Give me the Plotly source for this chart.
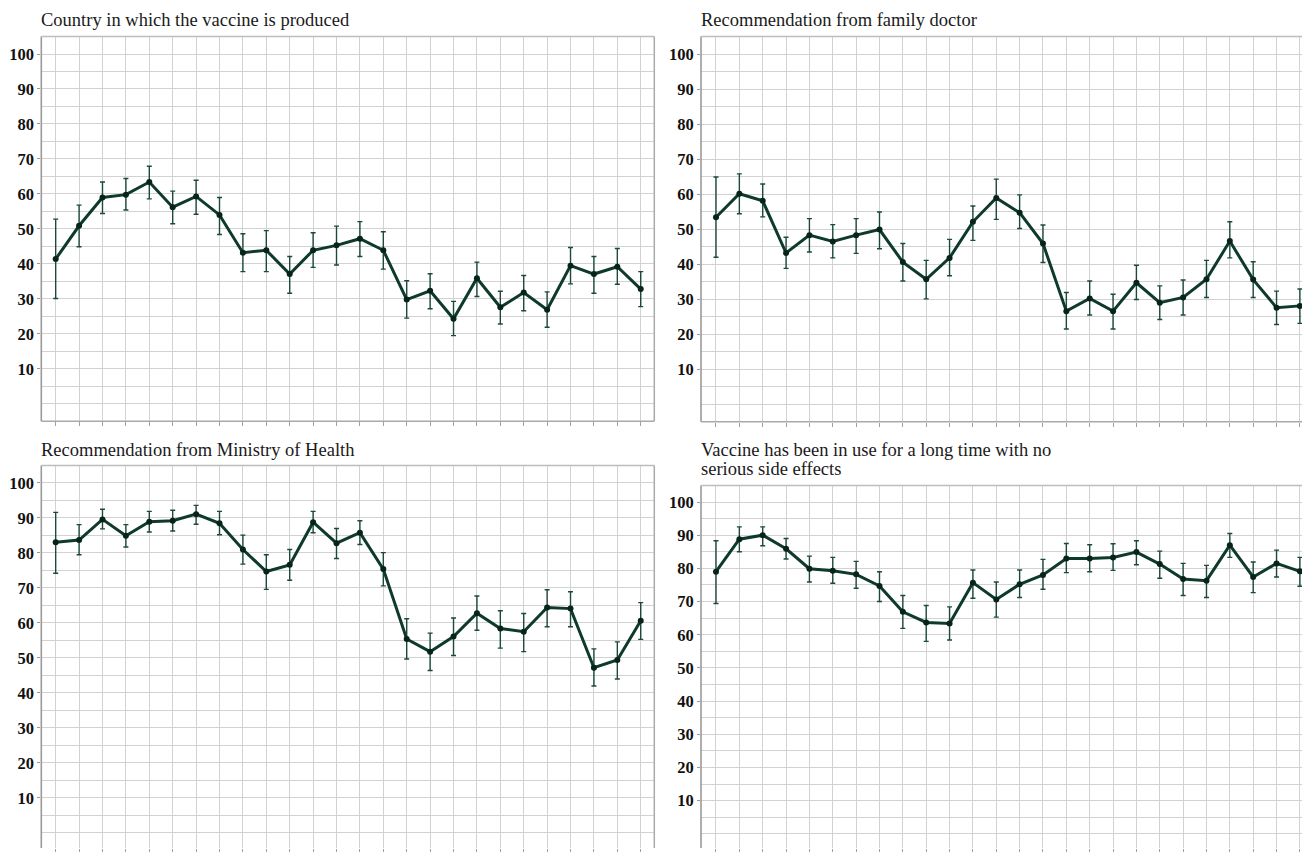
import plotly.graph_objects as go

W, H = 1302, 852

# ---------------- data ----------------
survey_wave = list(range(26))

country_mean = [41.4, 50.9, 59.0, 59.8, 63.4, 56.2, 59.3, 54.0, 43.2, 43.9, 37.1, 43.9, 45.3,
                47.2, 43.9, 29.8, 32.3, 24.3, 35.9, 27.6, 31.8, 26.9, 39.5, 37.1, 39.2, 32.8]
country_upper = [52.8, 56.8, 63.4, 64.4, 67.9, 60.8, 63.9, 59.0, 48.6, 49.5, 42.1, 48.9, 50.8,
                 52.1, 49.2, 35.2, 37.2, 29.3, 40.5, 32.2, 36.7, 32.0, 44.7, 42.1, 44.4, 37.8]
country_lower = [30.1, 44.9, 54.4, 55.4, 58.6, 51.5, 54.2, 48.4, 37.8, 37.8, 31.6, 39.0, 39.7,
                 42.1, 38.5, 24.5, 27.2, 19.5, 30.7, 22.8, 26.6, 21.9, 34.3, 31.6, 34.2, 27.8]

doctor_mean = [53.4, 60.1, 58.1, 43.2, 48.3, 46.5, 48.3, 49.9, 40.6, 35.7, 41.8, 52.1, 58.9,
               54.7, 45.9, 26.6, 30.2, 26.6, 34.7, 29.0, 30.5, 35.7, 46.6, 35.6, 27.6, 28.1]
doctor_upper = [64.9, 65.8, 62.9, 47.7, 53.0, 51.3, 53.0, 54.9, 45.9, 41.1, 47.1, 56.6, 64.3,
                59.8, 51.2, 31.9, 35.2, 31.4, 39.7, 33.8, 35.5, 41.1, 52.1, 40.7, 32.3, 32.9]
doctor_lower = [42.0, 54.4, 53.5, 38.8, 43.5, 41.8, 43.1, 44.4, 35.2, 30.1, 36.7, 46.8, 52.8,
                50.2, 40.5, 21.5, 25.5, 21.5, 29.9, 24.2, 25.5, 30.5, 41.8, 30.5, 22.8, 23.1]

ministry_mean = [83.1, 83.7, 89.6, 84.9, 88.9, 89.2, 91.1, 88.5, 81.0, 74.7, 76.6, 88.8, 82.8,
                 85.8, 75.4, 55.4, 51.8, 56.1, 62.8, 58.4, 57.5, 64.4, 64.1, 47.2, 49.4, 60.6]
ministry_upper = [91.6, 88.1, 92.5, 88.1, 91.9, 92.2, 93.6, 91.9, 85.1, 79.5, 81.0, 91.9, 87.0,
                  89.2, 80.1, 61.2, 57.1, 61.4, 67.7, 63.5, 62.7, 69.5, 68.9, 52.6, 54.6, 65.8]
ministry_lower = [74.2, 79.5, 86.9, 81.7, 86.0, 86.3, 88.2, 85.2, 76.8, 69.6, 72.2, 85.8, 78.4,
                  82.4, 70.6, 49.7, 46.4, 50.7, 57.9, 52.8, 51.8, 58.9, 58.9, 42.0, 44.0, 55.3]

longuse_mean = [79.0, 88.8, 90.0, 85.9, 79.9, 79.3, 78.2, 74.7, 66.9, 63.7, 63.4, 75.7, 70.6,
                75.2, 78.0, 83.0, 83.0, 83.3, 84.9, 81.3, 76.8, 76.3, 87.0, 77.4, 81.5, 79.1]
longuse_upper = [88.3, 92.5, 92.5, 89.0, 83.7, 83.3, 82.1, 79.0, 71.8, 68.8, 68.4, 79.5, 75.9,
                 79.5, 82.7, 87.5, 87.1, 87.4, 88.3, 85.2, 81.5, 80.9, 90.5, 81.9, 85.5, 83.3]
longuse_lower = [69.4, 85.0, 86.8, 82.8, 75.9, 75.5, 74.0, 70.0, 61.9, 58.0, 58.4, 71.0, 65.3,
                 71.2, 73.7, 78.7, 79.0, 79.4, 81.1, 77.0, 71.8, 71.2, 83.3, 72.7, 77.4, 74.6]

titles = [
    ["Country in which the vaccine is produced"],
    ["Recommendation from family doctor"],
    ["Recommendation from Ministry of Health"],
    ["Vaccine has been in use for a long time with no", "serious side effects"],
]
y_tick_values = [10, 20, 30, 40, 50, 60, 70, 80, 90, 100]

series = [
    (country_mean, country_lower, country_upper),
    (doctor_mean, doctor_lower, doctor_upper),
    (ministry_mean, ministry_lower, ministry_upper),
    (longuse_mean, longuse_lower, longuse_upper),
]

# ---------------- layout geometry (pixels) ----------------
geom = [
    dict(l=41.3, r=654.3, t=36.7, b=423.3, xr=[-0.615, 25.58], yr=[-5, 105], right=True, bottom=True, ty=[20.2]),
    dict(l=701.0, r=1302.0, t=36.7, b=423.8, xr=[-0.642, 25.09], yr=[-5, 105], right=False, bottom=True, ty=[20.2]),
    dict(l=41.3, r=654.3, t=467.7, b=852.0, xr=[-0.615, 25.58], yr=[-4.32, 105], right=True, bottom=False, ty=[451.8]),
    dict(l=701.0, r=1302.0, t=487.7, b=852.0, xr=[-0.642, 25.09], yr=[-4.28, 105], right=False, bottom=False, ty=[452.5, 471.5]),
]

LINE_C = "#0e3a2c"
MARK_C = "#08241a"
ERR_C = "#1b4a3a"
GRID_C = "#d2d2d2"
FRAME_C = "#a9a9a9"
FONT = "Liberation Serif, Times New Roman, serif"

def px(p):
    return p / W

def py(p):
    return 1 - p / H

fig = go.Figure()
shapes = []
annotations = []

for i, ((m, lo, hi), g, ttl) in enumerate(zip(series, geom, titles)):
    n = "" if i == 0 else str(i + 1)
    err_plus = [h - v for h, v in zip(hi, m)]
    err_minus = [v - l for v, l in zip(m, lo)]
    fig.add_trace(go.Scatter(
        x=survey_wave, y=m, mode="lines+markers",
        xaxis="x" + n, yaxis="y" + n,
        line=dict(color=LINE_C, width=3),
        marker=dict(color=MARK_C, size=6),
        error_y=dict(type="data", symmetric=False, array=err_plus, arrayminus=err_minus,
                     color=ERR_C, thickness=1.4, width=2.5),
        showlegend=False, hoverinfo="skip",
    ))
    fig.layout["xaxis" + n] = dict(
        domain=[px(g["l"]), px(g["r"])], range=g["xr"], anchor="y" + n,
        tickmode="array", tickvals=survey_wave, showticklabels=False,
        ticks="outside", ticklen=4, tickcolor="#a0a0a0", tickwidth=1,
        showgrid=True, gridcolor=GRID_C, gridwidth=1, zeroline=False, showline=False,
        fixedrange=True,
    )
    fig.layout["yaxis" + n] = dict(
        domain=[py(g["b"]), py(g["t"])], range=g["yr"], anchor="x" + n,
        tickmode="array", tickvals=y_tick_values,
        ticks="outside", ticklen=3, tickcolor="#999999", tickwidth=1,
        tickfont=dict(family=FONT, size=16.5, color="#111111", weight="bold"),
        showgrid=True, gridcolor=GRID_C, gridwidth=1, zeroline=False, showline=False,
        minor=dict(tickmode="linear", tick0=0, dtick=5, showgrid=True,
                   gridcolor=GRID_C, gridwidth=1, ticks=""),
        fixedrange=True,
    )
    fl, fr, ft, fb = px(g["l"]), px(g["r"]), py(g["t"]), py(g["b"])
    shapes.append(dict(type="line", xref="paper", yref="paper", x0=fl, x1=fl, y0=fb, y1=ft,
                       line=dict(color="#9a9a9a", width=1.6)))
    shapes.append(dict(type="line", xref="paper", yref="paper", x0=fl, x1=fr, y0=ft, y1=ft,
                       line=dict(color="#bdbdbd", width=1.5)))
    if g["right"]:
        shapes.append(dict(type="line", xref="paper", yref="paper", x0=fr, x1=fr, y0=fb, y1=ft,
                           line=dict(color=FRAME_C, width=1.5)))
    if g["bottom"]:
        shapes.append(dict(type="line", xref="paper", yref="paper", x0=fl, x1=fr, y0=fb, y1=fb,
                           line=dict(color=FRAME_C, width=1.5)))
    for line_text, yc in zip(ttl, g["ty"]):
        annotations.append(dict(
            text=line_text, xref="paper", yref="paper", x=px(g["l"] - 2), y=py(yc),
            xanchor="left", yanchor="middle", showarrow=False, align="left",
            font=dict(family=FONT, size=18.5, color="#1a1a1a"),
        ))

fig.update_layout(
    width=W, height=H, autosize=False,
    margin=dict(l=0, r=0, t=0, b=0, pad=0),
    paper_bgcolor="white", plot_bgcolor="white",
    shapes=shapes, annotations=annotations,
)

fig.write_html("out.html",
               config={"displayModeBar": False, "staticPlot": True},
               post_script="document.body.style.margin='0';document.body.style.overflow='hidden';")
